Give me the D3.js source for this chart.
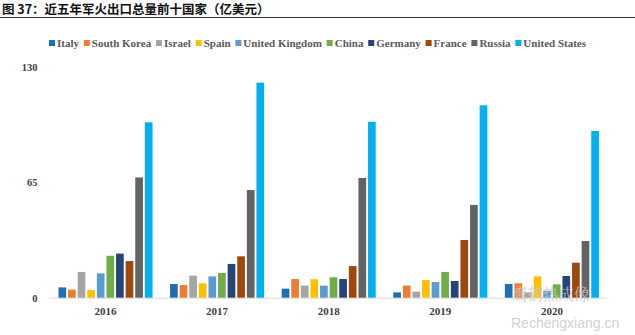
<!DOCTYPE html>
<html><head><meta charset="utf-8">
<script src="https://cdn.jsdelivr.net/npm/d3@7"></script>
<style>body{margin:0;background:#fff}svg{display:block}</style>
</head><body>
<script>
const years = ["2016","2017","2018","2019","2020"];
const countries = ["Italy","South Korea","Israel","Spain","United Kingdom","China","Germany","France","Russia","United States"];
const colors = ["#1f6db4","#ed7d31","#a5a5a5","#ffc000","#5b9bd5","#70ad47","#264478","#9e480e","#636363","#00b0f0"];
const italy   = [5.8, 7.7, 5.1, 3.0, 7.7];
const korea   = [4.5, 7.1, 10.5, 6.8, 8.1];
const israel  = [14.5, 12.4, 6.8, 3.4, 3.0];
const spain   = [4.3, 8.1, 10.4, 10.0, 12.0];
const uk      = [13.7, 12.0, 6.8, 8.8, 3.9];
const china   = [23.6, 13.9, 11.5, 14.5, 7.5];
const germany = [24.8, 19.0, 10.5, 9.4, 12.2];
const france  = [20.6, 23.3, 17.8, 32.5, 19.7];
const russia  = [67.7, 60.6, 67.4, 52.2, 31.9];
const usa     = [98.7, 121.0, 99.0, 108.3, 93.8];
const yTicks = [0, 65, 130];
const series = [italy, korea, israel, spain, uk, china, germany, france, russia, usa];

const W = 635, H = 335;
const svg = d3.select("body").append("svg").attr("width", W).attr("height", H);

// Title
svg.append("text").attr("x", 2).attr("y", 13.5)
  .attr("font-family", "'Noto Sans CJK SC', sans-serif").attr("font-weight", "bold")
  .attr("font-size", 12.5).attr("fill", "#111")
  .text("图 37：近五年军火出口总量前十国家（亿美元）");
svg.append("line").attr("x1", 0).attr("x2", W).attr("y1", 17.5).attr("y2", 17.5)
  .attr("stroke", "#333").attr("stroke-width", 1);

const x0 = d3.scaleBand().domain(years).range([49.7, 607.7]).paddingInner(0.14).paddingOuter(0.07);
const x1 = d3.scaleBand().domain(countries).range([0, x0.bandwidth()]).paddingInner(0.2).paddingOuter(0.1);
const y = d3.scaleLinear().domain([0, 130]).range([297.7, 66.7]);

// Baseline
svg.append("line").attr("x1", 49).attr("x2", 607).attr("y1", y(0)+0.5).attr("y2", y(0)+0.5)
  .attr("stroke", "#d9d9d9").attr("stroke-width", 1);

// Bars
const g = svg.append("g");
years.forEach((yr, i) => {
  countries.forEach((c, j) => {
    const v = series[j][i];
    g.append("rect")
      .attr("x", x0(yr) + x1(c))
      .attr("y", y(v))
      .attr("width", x1.bandwidth())
      .attr("height", y(0) - y(v))
      .attr("fill", colors[j]);
  });
});

// Y axis labels
const yAxis = d3.axisLeft(y).tickValues(yTicks).tickSize(0).tickPadding(0);
const ya = svg.append("g").attr("transform", "translate(37.5,0)").call(yAxis);
ya.select(".domain").remove();
ya.selectAll("text").attr("font-family", "'Liberation Serif', serif").attr("font-weight", "bold")
  .attr("font-size", 10.5).attr("fill", "#404040");

// X axis labels
const xAxis = d3.axisBottom(x0).tickSize(0).tickPadding(0);
const xa = svg.append("g").attr("transform", `translate(0,${y(0)+9})`).call(xAxis);
xa.select(".domain").remove();
xa.selectAll("text").attr("font-family", "'Liberation Serif', serif").attr("font-weight", "bold")
  .attr("font-size", 11).attr("fill", "#404040");

// Legend
const leg = svg.append("g");
const items = countries.map((c, j) => {
  const it = leg.append("g");
  it.append("rect").attr("width", 6).attr("height", 6).attr("y", -3.5).attr("fill", colors[j]);
  const t = it.append("text").attr("x", 8).attr("dy", "0.35em")
    .attr("font-family", "'Liberation Serif', serif").attr("font-weight", "bold")
    .attr("font-size", 11).attr("fill", "#595959").text(c);
  return {it, w: 8 + t.node().getComputedTextLength()};
});
const total = items.reduce((s, d) => s + d.w, 0);
const gap = (586 - 49 - total) / (items.length - 1);
let lx = 49;
items.forEach(d => { d.it.attr("transform", `translate(${lx},43.5)`); lx += d.w + gap; });

// Watermark
svg.append("text").attr("x", 512).attr("y", 299.5)
  .attr("font-family", "'Noto Serif CJK SC', 'Noto Sans CJK SC', serif")
  .attr("font-size", 15.5).attr("fill", "#c9c9c9").attr("opacity", 0.85).text("鹰鹤热成像");
svg.append("text").attr("x", 511).attr("y", 328)
  .attr("font-family", "'Liberation Sans', sans-serif")
  .attr("font-size", 14).attr("fill", "#d2d2d2").text("Rechengxiang.cn");
</script>
</body></html>
